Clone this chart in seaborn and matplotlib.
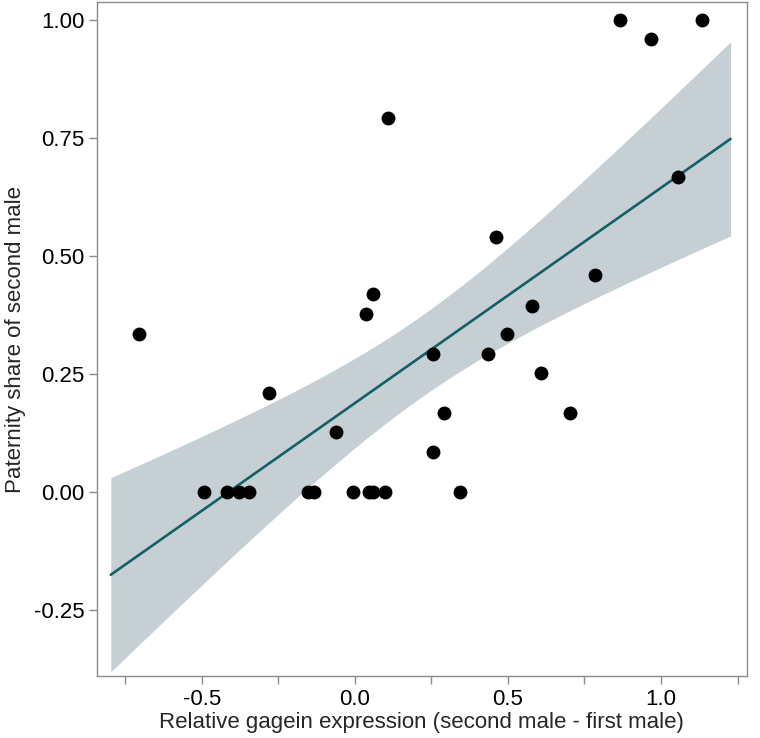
import numpy as np
import pandas as pd
import seaborn as sns
import matplotlib.pyplot as plt
from matplotlib.ticker import MultipleLocator

# relative gagein expression (second - first male) and paternity share
expression = [-0.705, -0.493, -0.419, -0.379, -0.345, -0.281, -0.153, -0.134,
              -0.060, -0.006, 0.037, 0.046, 0.059, 0.060, 0.098, 0.107,
              0.254, 0.254, 0.292, 0.343, 0.436, 0.460, 0.497, 0.577,
              0.609, 0.703, 0.784, 0.866, 0.966, 1.054, 1.135]
paternity = [0.334, 0.0, 0.0, 0.0, 0.0, 0.210, 0.0, 0.0,
             0.126, 0.0, 0.376, 0.0, 0.419, 0.0, 0.0, 0.792,
             0.293, 0.085, 0.168, 0.0, 0.293, 0.540, 0.335, 0.393,
             0.251, 0.168, 0.460, 1.0, 0.959, 0.668, 1.0]

x_ticks = [-0.5, 0.0, 0.5, 1.0]
y_ticks = [-0.25, 0.0, 0.25, 0.50, 0.75, 1.00]

df = pd.DataFrame({'expr': expression, 'share': paternity})

sns.set_style('white')
plt.rcParams['font.family'] = ['Liberation Sans', 'DejaVu Sans']

fig = plt.figure(figsize=(7.6, 7.38), dpi=100)
ax = fig.add_axes([0.1276, 0.084, 0.855, 0.9133])

# fit line over data range + 5% each side (like fullrange)
rng = max(expression) - min(expression)
x0, x1 = min(expression) - 0.05 * rng, max(expression) + 0.05 * rng
ax.set_xlim(x0, x1)

sns.regplot(data=df, x='expr', y='share', ax=ax, truncate=False, ci=None,
            color='#136066',
            scatter_kws={'s': 100, 'color': 'black', 'alpha': 1,
                         'linewidths': 0, 'zorder': 3},
            line_kws={'lw': 1.9, 'zorder': 2})

# 95% confidence band of the linear fit (t-based)
x = df['expr'].to_numpy()
y = df['share'].to_numpy()
n = len(x)
b1, b0 = np.polyfit(x, y, 1)
resid = y - (b0 + b1 * x)
s = np.sqrt(np.sum(resid ** 2) / (n - 2))
grid = np.linspace(x0, x1, 200)
se = s * np.sqrt(1 / n + (grid - x.mean()) ** 2 / np.sum((x - x.mean()) ** 2))
t = 2.045  # t(0.975, 29)
fit = b0 + b1 * grid
ax.fill_between(grid, fit - t * se, fit + t * se, color='#c6d0d4',
                lw=0, zorder=1)

ax.set_xlim(-0.842, 1.28)
ax.set_ylim(-0.39, 1.038)
ax.set_xticks(x_ticks)
ax.set_xticklabels([f'{v:.1f}' for v in x_ticks])
ax.xaxis.set_minor_locator(MultipleLocator(0.25))
ax.set_yticks(y_ticks)
ax.set_yticklabels([f'{v:.2f}' for v in y_ticks])

for sp in ax.spines.values():
    sp.set_color('#8c8c8c')
    sp.set_linewidth(1.0)
ax.tick_params(which='both', direction='out', color='#8c8c8c', width=1.0,
               labelsize=16, labelcolor='black')
ax.tick_params(which='major', length=6, bottom=True, left=True, pad=3)
ax.tick_params(which='minor', length=6, bottom=True)

ax.set_xlabel('Relative gagein expression (second male - first male)',
              fontsize=16, labelpad=2)
ax.set_ylabel('Paternity share of second male', fontsize=16, labelpad=6)

fig.savefig('out.png', dpi=100)
